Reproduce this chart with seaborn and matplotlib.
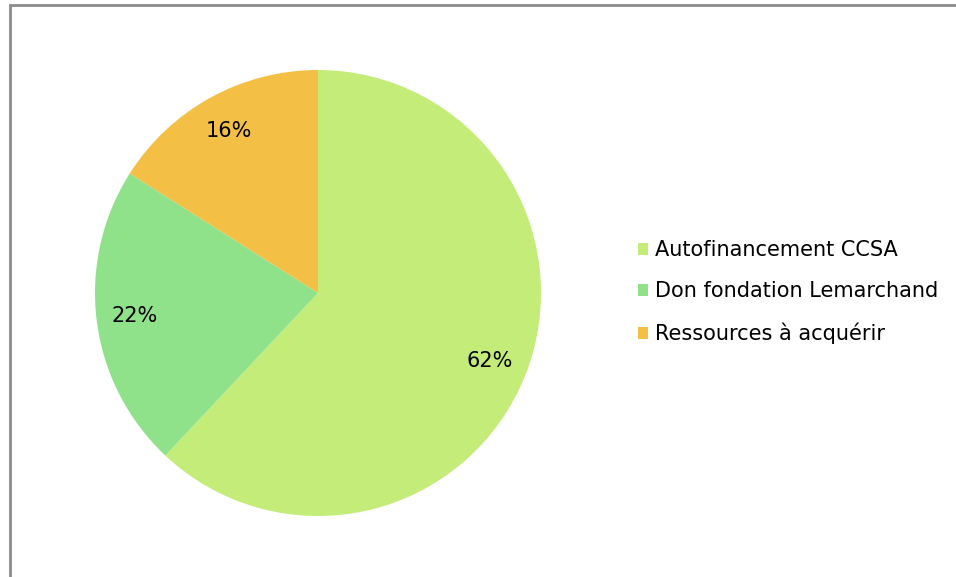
import matplotlib
matplotlib.use("Agg")
import matplotlib.pyplot as plt
import seaborn as sns
from matplotlib.patches import Rectangle, Patch

categories = ["Autofinancement CCSA", "Don fondation Lemarchand", "Ressources à acquérir"]
values = [62, 22, 16]
colors = ["#c4ec78", "#90e28a", "#f3bf45"]

sns.set_theme(style="white")
plt.rcParams['font.family'] = ['DejaVu Sans']
plt.rcParams['text.color'] = 'black'

W, H = 956, 577
fig = plt.figure(figsize=(W / 100, H / 100), dpi=100)
fig.patch.set_facecolor("white")

# frame
fig.add_artist(Rectangle((10 / W, -0.05), 1.2, (H - 5) / H + 0.05, transform=fig.transFigure,
                         fill=False, edgecolor="#8c8c8c", linewidth=2))

cx, cy, r = 318, 293, 223
ax = fig.add_axes([(cx - r) / W, (H - cy - r) / H, 2 * r / W, 2 * r / H])
wedges, texts, autotexts = ax.pie(values, colors=colors, startangle=90, counterclock=False,
                                  autopct=lambda p: f"{p:.0f}%", pctdistance=0.83,
                                  wedgeprops=dict(linewidth=0),
                                  textprops=dict(fontsize=15, color="black"))
ax.set_xlim(-1, 1)
ax.set_ylim(-1, 1)
ax.set_aspect("equal")
ax.axis("off")

handles = [Patch(facecolor=c, edgecolor="none") for c in colors]
leg = fig.legend(handles, categories, loc="center left", bbox_to_anchor=(638 / W, (H - 292) / H),
                 frameon=False, fontsize=15, handlelength=0.5, handleheight=0.5,
                 handletextpad=0.3, labelspacing=1.02, borderpad=0, borderaxespad=0)
for t in leg.get_texts():
    t.set_color("black")

fig.savefig("out.png", dpi=100)
